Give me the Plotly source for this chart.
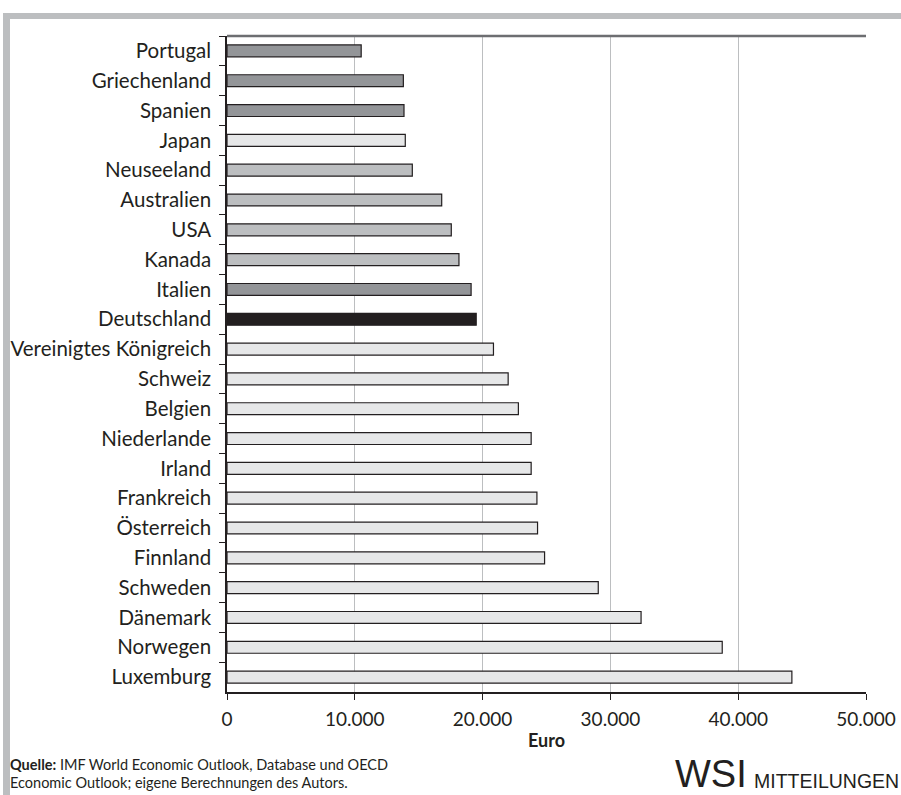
import plotly.graph_objects as go

countries = ["Portugal", "Griechenland", "Spanien", "Japan", "Neuseeland", "Australien",
             "USA", "Kanada", "Italien", "Deutschland", "Vereinigtes Königreich", "Schweiz",
             "Belgien", "Niederlande", "Irland", "Frankreich", "Österreich", "Finnland",
             "Schweden", "Dänemark", "Norwegen", "Luxemburg"]
values = [10500, 13800, 13850, 13950, 14500, 16800, 17550, 18150, 19100, 19500, 20850, 22000,
          22800, 23800, 23800, 24250, 24300, 24850, 29050, 32400, 38750, 44200]
groups = ["sued", "sued", "sued", "andere", "anglo", "anglo", "anglo", "anglo", "sued", "de",
          "andere", "andere", "andere", "andere", "andere", "andere", "andere", "andere",
          "andere", "andere", "andere", "andere"]
x_ticks = [0, 10000, 20000, 30000, 40000, 50000]

group_colors = {"sued": "#939598", "anglo": "#bcbec0", "andere": "#e6e7e8", "de": "#231f20"}
bar_colors = [group_colors[g] for g in groups]

W, H = 901, 795
ML, MR, MT, MB = 227, 35, 36, 103
PW, PH = W - ML - MR, H - MT - MB


def px(x):
    return (x - ML) / PW


def py(y):
    return (H - MB - y) / PH


fig = go.Figure(go.Bar(
    x=values, y=countries, orientation="h", width=0.4,
    marker=dict(color=bar_colors, line=dict(color="#231f20", width=1.2)),
))

label_font = "Lato, 'Open Sans', sans-serif"
fig.update_layout(
    width=W, height=H,
    margin=dict(l=ML, r=MR, t=MT, b=MB, autoexpand=False),
    paper_bgcolor="white", plot_bgcolor="white",
    separators=",.",
    showlegend=False,
    xaxis=dict(
        range=[0, 50000], tickvals=x_ticks, tickformat=",d",
        showgrid=True, gridcolor="#bcbec0", gridwidth=1.2,
        zeroline=False,
        showline=True, linecolor="#231f20", linewidth=1.5,
        ticks="outside", ticklen=6, tickcolor="#231f20", tickwidth=1.2,
        ticklabelstandoff=3,
        tickfont=dict(family=label_font, size=19, color="#231f20"),
        title=dict(text="<b>Euro</b>", font=dict(family=label_font, size=18, color="#231f20"), standoff=6),
    ),
    yaxis=dict(
        categoryorder="array", categoryarray=countries, autorange="reversed",
        showgrid=False, zeroline=False,
        showline=True, linecolor="#231f20", linewidth=1.5,
        ticks="outside", tickson="boundaries", ticklen=6, tickcolor="#231f20", tickwidth=1.2,
        ticklabelstandoff=10,
        tickfont=dict(family=label_font, size=20.5, color="#231f20"),
    ),
    shapes=[
        dict(type="line", xref="paper", yref="paper", x0=0, x1=1, y0=1, y1=1,
             line=dict(color="#6d6e71", width=2.5)),
        dict(type="rect", xref="paper", yref="paper", x0=px(3), x1=px(10),
             y0=py(800), y1=py(13), fillcolor="#bcbec0", line=dict(width=0), layer="below"),
        dict(type="rect", xref="paper", yref="paper", x0=px(3), x1=px(905),
             y0=py(19), y1=py(13), fillcolor="#bcbec0", line=dict(width=0), layer="below"),
    ],
    annotations=[
        dict(xref="paper", yref="paper", x=px(8), y=py(764), xanchor="left", yanchor="middle",
             text="<b>Quelle:</b> IMF World Economic Outlook, Database und OECD",
             showarrow=False, font=dict(family=label_font, size=14.5, color="#231f20")),
        dict(xref="paper", yref="paper", x=px(8), y=py(782), xanchor="left", yanchor="middle",
             text="Economic Outlook; eigene Berechnungen des Autors.",
             showarrow=False, font=dict(family=label_font, size=14.5, color="#231f20")),
        dict(xref="paper", yref="paper", x=px(749), y=py(774), xanchor="right", yanchor="middle",
             text="WSI", showarrow=False,
             font=dict(family="'Liberation Sans', Arial, sans-serif", size=38, color="#231f20")),
        dict(xref="paper", yref="paper", x=px(752), y=py(781), xanchor="left", yanchor="middle",
             text="MITTEILUNGEN", showarrow=False,
             font=dict(family="'Liberation Sans', Arial, sans-serif", size=19.5, color="#231f20")),
    ],
)

fig.write_html("out.html", config={"displayModeBar": False},
               post_script="document.body.style.margin='0';document.body.style.overflow='hidden';")
